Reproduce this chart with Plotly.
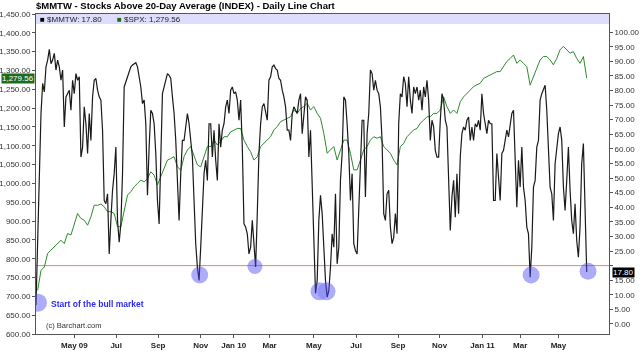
import plotly.graph_objects as go

# ---------------- data ----------------
# $MMTW (% of stocks above 20-day average), one value per session index
mmtw = [
    6.5, 30.0, 58.4, 72.1, 82.4, 79.5, 88.1, 90.4, 94.1, 89.2,
    90.4, 92.7, 87.0, 90.4, 88.1, 83.5, 87.0, 67.5, 77.8, 78.9,
    80.1, 73.2, 83.5, 78.9, 85.8, 83.5, 84.7, 57.2, 60.6, 74.4,
    68.6, 58.4, 72.1, 62.9, 77.8, 83.5, 84.1, 80.1, 77.8, 76.7,
    66.4, 42.3, 41.2, 44.6, 24.0, 35.5, 45.8, 51.5, 60.6, 35.5,
    28.0, 34.3, 51.5, 81.2, 83.0, 84.7, 87.0, 88.1, 88.7, 89.2,
    89.5, 88.1, 84.7, 81.2, 75.5, 76.7, 68.6, 44.1, 60.6, 73.2,
    72.1, 68.6, 58.4, 42.3, 34.3, 54.9, 78.9, 81.2, 83.5, 85.8,
    85.2, 84.1, 77.8, 72.1, 62.9, 51.5, 35.5, 51.5, 62.9, 62.9,
    68.6, 72.1, 68.6, 62.9, 57.2, 42.3, 27.5, 19.5, 14.9, 26.3,
    42.3, 51.5, 56.1, 49.2, 68.6, 68.6, 57.2, 66.4, 56.1, 49.2,
    68.6, 60.6, 66.4, 68.6, 74.4, 76.7, 72.1, 80.1, 81.2, 78.9,
    79.5, 76.7, 69.8, 76.7, 60.6, 34.3, 33.2, 30.9, 24.0, 26.3,
    35.5, 27.5, 19.5, 37.8, 58.4, 68.6, 74.4, 75.5, 72.1, 69.8,
    83.5, 84.7, 88.1, 88.7, 87.5, 87.0, 84.1, 83.5, 80.1, 77.8,
    74.4, 66.4, 66.4, 62.9, 72.1, 74.4, 73.2, 72.1, 76.7, 78.9,
    65.2, 72.1, 77.8, 76.7, 57.2, 66.4, 49.2, 26.3, 10.5, 14.9,
    35.5,
    44.1, 37.8, 26.3, 14.9, 9.2, 11.4, 19.5, 30.9, 26.3, 44.6,
    20.6, 26.3, 49.2, 58.4, 77.8, 76.7, 68.6, 58.4, 42.3, 51.5,
    27.5, 25.2, 24.0, 37.8, 54.9, 69.8, 69.8, 43.5, 65.2, 72.1,
    87.0, 85.8, 80.1, 83.5, 80.1, 78.9, 74.4, 62.9, 37.8, 35.5,
    44.6, 45.8, 33.2, 27.5, 29.7, 37.8, 30.9, 68.6, 78.9, 77.8,
    84.7, 82.4, 74.4, 84.7, 76.7, 72.1, 81.2, 78.9, 81.2, 76.7,
    80.1, 73.2, 81.2, 77.8, 83.5, 76.7, 62.9, 69.8, 67.5, 59.5,
    57.2, 57.2, 69.8, 78.9, 76.7, 69.8, 67.5, 52.6, 32.0, 43.5,
    49.2, 36.6, 51.5, 37.8, 57.2, 65.2, 67.5, 66.4, 69.8, 70.9,
    62.9, 67.5, 62.9, 68.6, 67.5, 69.8, 66.4, 78.9, 72.1, 68.6,
    65.2, 69.8, 68.6, 68.6, 42.3, 42.3, 58.4, 50.3, 42.3, 58.4,
    59.5, 62.9, 66.4, 64.1, 68.6, 72.1, 73.2, 53.8, 40.0, 56.1,
    46.9, 60.6, 46.9, 42.3, 33.2, 30.9, 16.0, 26.3, 46.9, 49.2,
    60.6, 62.9, 76.7, 78.9, 80.1, 81.8, 73.2, 60.6, 46.9, 44.6,
    35.5, 54.9, 60.6, 65.2, 67.5, 62.9, 46.9, 38.9, 49.2, 60.6,
    45.8, 35.5, 30.9, 41.2, 28.6, 22.9, 33.2, 54.9, 61.8, 35.5,
    17.8,
]
mmtw_idx = list(range(len(mmtw)))

# $SPX close, sampled on every other session index
spx = [
    716, 769, 778, 814, 823, 832, 840, 849, 840, 867,
    863, 894, 920, 907, 902, 889, 911, 942, 942, 945,
    938, 925, 925, 920, 885, 885, 929, 969, 978, 991,
    1000, 1009, 1004, 1013, 1031, 1022, 996, 1018, 1040, 1062,
    1066, 1071, 1044, 1035, 1071, 1089, 1098, 1075, 1049, 1044,
    1071, 1098, 1098, 1115, 1102, 1111, 1124, 1124, 1137, 1142,
    1146, 1146, 1115, 1098, 1084, 1062, 1071, 1098, 1106, 1115,
    1124, 1142, 1151, 1164, 1168, 1173, 1177, 1195, 1186, 1199,
    1204, 1213, 1195, 1204, 1186,
    1173, 1133, 1080, 1089, 1098, 1062, 1089, 1115, 1115, 1080,
    1036, 1036, 1062, 1089, 1098, 1115, 1124, 1120, 1124, 1098,
    1089, 1080, 1062, 1049, 1098, 1106, 1124, 1133, 1142, 1146,
    1160, 1168, 1177, 1177, 1186, 1186, 1195, 1230, 1204, 1186,
    1195, 1186, 1217, 1230, 1239, 1248, 1257, 1262, 1266, 1279,
    1284, 1288, 1293, 1297, 1297, 1310, 1324, 1332, 1341, 1319,
    1328, 1319, 1310, 1261, 1284, 1310, 1328, 1337, 1337, 1328,
    1315, 1332, 1355, 1364, 1355, 1346, 1350, 1332, 1319, 1337,
    1279.56,
]
spx_idx = list(range(1, 170, 2)) + list(range(171, 332, 2))

# x-axis month labels at session index positions
tick_idx = [23.1, 48.2, 73.4, 99.0, 118.8, 140.4, 167.0, 192.4, 217.6, 242.6, 268.4, 291.0, 314.0]
tick_labels = ["May 09", "Jul", "Sep", "Nov", "Jan 10", "Mar", "May",
               "Jul", "Sep", "Nov", "Jan 11", "Mar", "May"]

# highlighted MMTW lows (index, value)
low_idx = [1.2, 98.4, 131.6, 170.4, 174.6, 297.6, 331.8]
low_val = [7.3, 16.8, 19.7, 11.2, 11.2, 16.8, 18.1]
low_size = [18, 17, 15, 18, 18, 17, 17]

left_ticks = list(range(600, 1451, 50))
right_ticks = list(range(0, 101, 5))
threshold = 20
last_mmtw = mmtw[-1]
last_spx = spx[-1]

FONT = "Liberation Sans, Arial, sans-serif"

fig = go.Figure()
fig.add_trace(go.Scatter(x=spx_idx, y=spx, mode="lines", yaxis="y",
                         line=dict(color="#2d8a2d", width=1), hoverinfo="skip"))
fig.add_trace(go.Scatter(x=mmtw_idx, y=mmtw, mode="lines", yaxis="y2",
                         line=dict(color="#1a1a1a", width=1.2), hoverinfo="skip"))
fig.add_trace(go.Scatter(x=low_idx, y=low_val, mode="markers", yaxis="y2",
                         marker=dict(size=low_size, color="#4a4af2", line=dict(width=0)),
                         opacity=0.65, hoverinfo="skip"))

right_text = ["" if v == threshold else f"{v:.2f}" for v in right_ticks]

fig.update_layout(
    width=640, height=363, autosize=False,
    margin=dict(l=36, r=31, t=14, b=29, pad=0, autoexpand=False),
    paper_bgcolor="white", plot_bgcolor="white",
    showlegend=False,
    font=dict(family=FONT, size=8, color="#333"),
    title=dict(text="<b>$MMTW - Stocks Above 20-Day Average (INDEX) - Daily Line Chart</b>",
               x=36 / 640, xref="container", xanchor="left",
               y=1 - 5.5 / 363, yref="container", yanchor="middle", automargin=False,
               font=dict(family=FONT, size=9.5, color="#000")),
    xaxis=dict(range=[0, 344.4], tickmode="array", tickvals=tick_idx,
               ticktext=[f"<b>{t}</b>" for t in tick_labels],
               tickfont=dict(size=8, color="#222"),
               ticks="outside", ticklen=3, tickcolor="#555",
               showline=True, linecolor="#555", linewidth=1, mirror=True,
               showgrid=False, zeroline=False, automargin=False),
    yaxis=dict(range=[599.99, 1450.01], tickmode="array", tickvals=left_ticks,
               tickformat=",.2f", tickfont=dict(size=8, color="#333"),
               ticks="outside", ticklen=3, tickcolor="#555",
               showline=True, linecolor="#555", linewidth=1,
               showgrid=False, zeroline=False, automargin=False),
    yaxis2=dict(range=[-3.43, 106.2], overlaying="y", side="right",
                tickmode="array", tickvals=right_ticks, ticktext=right_text,
                tickfont=dict(size=8, color="#333"),
                ticks="outside", ticklen=3, tickcolor="#555",
                showline=True, linecolor="#555", linewidth=1,
                showgrid=False, zeroline=False, automargin=False),
)

# legend band
fig.add_shape(type="rect", xref="paper", yref="paper", x0=0, x1=1, y0=1 - 10 / 320, y1=1,
              fillcolor="rgb(222,222,252)", line=dict(width=0), layer="below")
# threshold line
fig.add_shape(type="line", xref="paper", yref="y2", x0=0, x1=1, y0=threshold, y1=threshold,
              line=dict(color="rgb(255,120,120)", width=1), layer="below")

fig.add_annotation(xref="paper", yref="paper", x=0.004, y=1 - 5 / 320, xanchor="left", yanchor="middle",
                   text=f"<span style='color:#000'>■</span> $MMTW: {last_mmtw:.2f}", showarrow=False,
                   font=dict(size=8, color="#222"))
fig.add_annotation(xref="paper", yref="paper", x=0.138, y=1 - 5 / 320, xanchor="left", yanchor="middle",
                   text=f"<span style='color:#1d6b1d'>■</span> $SPX: {last_spx:,.2f}", showarrow=False,
                   font=dict(size=8, color="#222"))

# last value labels
fig.add_annotation(xref="paper", yref="y", x=0, y=last_spx, xanchor="right", yanchor="middle",
                   xshift=-1, text=f"{last_spx:,.2f}", showarrow=False, bgcolor="#1d6b1d",
                   borderpad=0, font=dict(size=8, color="white"))
fig.add_annotation(xref="paper", yref="y2", x=1, y=last_mmtw, xanchor="left", yanchor="middle",
                   xshift=3, text=f"{last_mmtw:.2f}", showarrow=False, bgcolor="black",
                   borderpad=0, font=dict(size=8, color="white"))

fig.add_annotation(xref="x", yref="y2", x=7.8, y=6.9, xanchor="left", yanchor="middle",
                   text="<b>Start of the bull market</b>", showarrow=False,
                   font=dict(size=8.5, color="#2b2bf0"))
fig.add_annotation(xref="paper", yref="paper", x=0.014, y=0.028, xanchor="left", yanchor="middle",
                   text="(c) Barchart.com", showarrow=False, font=dict(size=7.5, color="#333"))

fig.write_html("out.html", config={"displayModeBar": False},
               post_script="document.body.style.margin='0';document.body.style.overflow='hidden';")
